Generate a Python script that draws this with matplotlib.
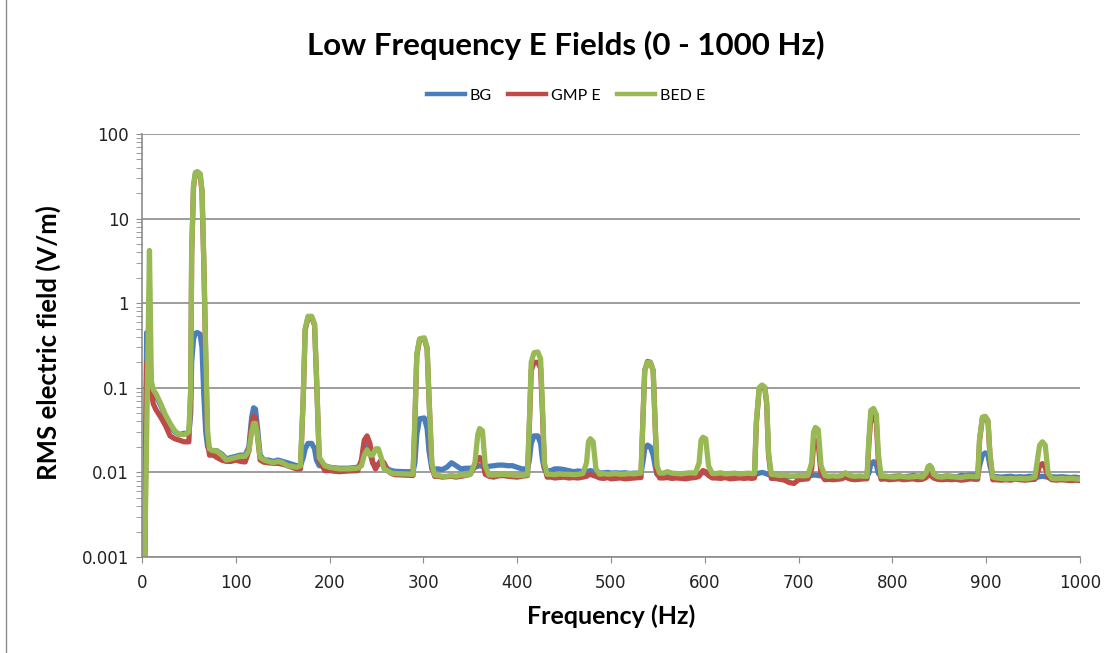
import numpy as np
import matplotlib
matplotlib.use("Agg")
import matplotlib.pyplot as plt
from matplotlib.ticker import LogLocator, FixedLocator, NullFormatter
from matplotlib.lines import Line2D

# frequency grid (Hz) shared by the three traces
freq = [
    3, 5, 8, 10, 12, 15, 20, 25, 30, 35, 40, 45, 48,
    50, 52, 53, 55, 57, 59, 62, 64, 66, 68, 70, 72,
    76, 80, 85, 90, 95, 100, 105, 110, 114, 117, 119, 121, 123, 126, 130, 135, 140, 145, 150, 155, 160, 165,
    169, 172, 174, 177, 181, 184, 186, 189, 195,
    200, 210, 220, 230, 234, 237, 240, 243, 246, 249, 252, 255, 258, 262, 266, 270, 280,
    289, 291, 293, 296, 301, 304, 306, 309, 312,
    316, 320, 325, 330, 335, 340, 345, 350, 355, 358, 360, 363, 366, 370, 375, 380, 385, 390, 395, 400, 405,
    411, 413, 415, 418, 422, 425, 427, 429, 432,
    436, 440, 445, 450, 455, 460, 465, 470, 474, 476, 478, 481, 484, 488, 492, 497, 500, 505, 510, 515, 520, 525, 530,
    532, 534, 536, 539, 542, 545, 547, 549, 552,
    556, 560, 565, 570, 575, 580, 585, 590, 594, 596, 598, 601, 604, 608, 612, 617, 622, 627, 632, 637, 642, 646, 650,
    653, 655, 658, 661, 664, 666, 668, 671,
    675, 680, 685, 690, 695, 700, 705, 710, 714, 716, 718, 721, 724, 728, 732, 737, 742, 746, 748, 750, 752, 756, 760, 765, 770,
    773, 775, 777, 780, 783, 785, 788,
    792, 797, 802, 807, 812, 817, 822, 827, 832, 836, 838, 840, 842, 844, 848, 853, 858, 863, 868, 873, 878, 883, 888,
    891, 893, 896, 899, 902, 904, 907,
    911, 916, 921, 926, 931, 936, 941, 946, 952, 955, 957, 960, 963, 966, 970, 975, 980, 985, 990, 995, 1000,
]

bg = [
    0.001, 0.45, 0.3, 0.11, 0.09, 0.08, 0.062, 0.046, 0.036, 0.030, 0.028, 0.029, 0.029,
    0.029, 0.05, 0.2, 0.38, 0.44, 0.45, 0.43, 0.3, 0.08, 0.03, 0.02, 0.018,
    0.018, 0.018, 0.0165, 0.0145, 0.015, 0.0155, 0.016, 0.016, 0.02, 0.045, 0.058, 0.056, 0.035, 0.016, 0.014, 0.014, 0.0135, 0.014, 0.0135, 0.013, 0.0125, 0.012,
    0.012, 0.015, 0.019, 0.022, 0.022, 0.019, 0.014, 0.012, 0.012,
    0.0115, 0.0112, 0.0112, 0.0115, 0.013, 0.019, 0.021, 0.017, 0.013, 0.012, 0.0125, 0.013, 0.012, 0.011, 0.0105, 0.0103, 0.0102,
    0.0102, 0.013, 0.028, 0.043, 0.044, 0.033, 0.018, 0.011, 0.011,
    0.011, 0.0108, 0.0115, 0.013, 0.012, 0.011, 0.0112, 0.0112, 0.0115, 0.0118, 0.012, 0.0118, 0.0115, 0.0118, 0.012, 0.0122, 0.0122, 0.012, 0.012, 0.0115, 0.011,
    0.011, 0.014, 0.022, 0.027, 0.027, 0.022, 0.014, 0.011, 0.0105,
    0.0105, 0.011, 0.011, 0.0108, 0.0105, 0.0102, 0.0104, 0.0102, 0.0103, 0.0103, 0.0105, 0.0103, 0.0101, 0.0098, 0.0099, 0.01, 0.0098, 0.0099, 0.0098, 0.0099, 0.0097, 0.0098, 0.0098,
    0.0098, 0.013, 0.019, 0.021, 0.02, 0.016, 0.012, 0.0095, 0.0093,
    0.0093, 0.0094, 0.0093, 0.0092, 0.0091, 0.0092, 0.0093, 0.0094, 0.0095, 0.0098, 0.01, 0.0098, 0.0094, 0.0092, 0.0092, 0.0093, 0.0092, 0.0093, 0.0093, 0.0092, 0.0094, 0.0095, 0.0094,
    0.0094, 0.0095, 0.0098, 0.01, 0.0098, 0.0096, 0.0094, 0.0093,
    0.0092, 0.0091, 0.009, 0.0089, 0.009, 0.0089, 0.009, 0.0091, 0.0092, 0.0093, 0.0093, 0.0092, 0.0091, 0.009, 0.0089, 0.0088, 0.0089, 0.0091, 0.0094, 0.0096, 0.0093, 0.009, 0.0089, 0.0088, 0.0089,
    0.0089, 0.0098, 0.0125, 0.0134, 0.0122, 0.0098, 0.0089,
    0.009, 0.0089, 0.009, 0.0091, 0.0089, 0.009, 0.0092, 0.009, 0.0091, 0.0094, 0.0097, 0.0098, 0.0096, 0.0093, 0.009, 0.0089, 0.0091, 0.009, 0.0088, 0.0092, 0.0091, 0.0093, 0.0092,
    0.0092, 0.012, 0.016, 0.017, 0.016, 0.012, 0.009,
    0.0089, 0.0088, 0.0089, 0.009, 0.0088, 0.0089, 0.0088, 0.009, 0.0089, 0.0088, 0.0089, 0.009, 0.0089, 0.0088, 0.0089, 0.0088, 0.0089, 0.0088, 0.0087, 0.0088, 0.0086,
]

gmp_e = [
    0.001, 0.2, 0.15, 0.09, 0.065, 0.055, 0.045, 0.036, 0.027, 0.025, 0.024, 0.023, 0.023,
    0.023, 0.09, 3.8, 24, 34, 35, 33, 21, 2.8, 0.22, 0.025, 0.016,
    0.016, 0.015, 0.014, 0.0135, 0.0135, 0.014, 0.0135, 0.0133, 0.018, 0.038, 0.046, 0.045, 0.028, 0.014, 0.0132, 0.013, 0.0128, 0.0128, 0.0125, 0.012, 0.0115, 0.011,
    0.011, 0.08, 0.48, 0.67, 0.68, 0.55, 0.14, 0.014, 0.0105,
    0.0105, 0.0102, 0.0104, 0.0105, 0.014, 0.024, 0.027, 0.022, 0.013, 0.011, 0.0125, 0.014, 0.013, 0.0105, 0.0097, 0.0094, 0.0093,
    0.0092, 0.04, 0.24, 0.37, 0.38, 0.29, 0.075, 0.012, 0.009,
    0.009, 0.0088, 0.0089, 0.009, 0.0088, 0.009, 0.0092, 0.0095, 0.012, 0.014, 0.015, 0.014, 0.0095, 0.009, 0.0088, 0.0091, 0.0092, 0.009, 0.0089, 0.0088, 0.009,
    0.0092, 0.035, 0.16, 0.2, 0.2, 0.17, 0.05, 0.012, 0.0088,
    0.0088, 0.0086, 0.0087, 0.0088, 0.0086, 0.0087, 0.0086, 0.0088, 0.009, 0.0093, 0.0095, 0.0092, 0.009, 0.0086, 0.0085, 0.0087, 0.0084, 0.0085, 0.0086, 0.0084, 0.0085, 0.0086, 0.0087,
    0.0087, 0.04, 0.16, 0.205, 0.2, 0.16, 0.04, 0.0098, 0.0086,
    0.0086, 0.0087, 0.0085, 0.0086, 0.0085, 0.0084, 0.0086, 0.0087, 0.009, 0.0098, 0.0105, 0.0102, 0.0092, 0.0086, 0.0086, 0.0085, 0.0087, 0.0084, 0.0085, 0.0086, 0.0085, 0.0086, 0.0085,
    0.0086, 0.038, 0.095, 0.105, 0.1, 0.065, 0.016, 0.0085,
    0.0085, 0.0083, 0.0081, 0.0076, 0.0074, 0.0082, 0.0083, 0.0084, 0.011, 0.021, 0.024, 0.022, 0.0095, 0.0082, 0.0083, 0.0082, 0.0083, 0.0084, 0.0086, 0.0088, 0.0086, 0.0083, 0.0082, 0.0083, 0.0084,
    0.0084, 0.022, 0.044, 0.046, 0.038, 0.014, 0.0083,
    0.0084, 0.0082, 0.0083, 0.0084, 0.0082, 0.0083, 0.0084, 0.0082, 0.0083, 0.0087, 0.0092, 0.0093, 0.009, 0.0086, 0.0083, 0.0082, 0.0083, 0.0082, 0.0083, 0.0081, 0.0082, 0.0084, 0.0083,
    0.0083, 0.024, 0.044, 0.045, 0.04, 0.016, 0.0082,
    0.0082, 0.0081, 0.0082, 0.0081, 0.0083, 0.0082, 0.0081, 0.0082, 0.0083, 0.01, 0.012, 0.0127, 0.0115, 0.0088, 0.0082, 0.0081, 0.0082, 0.0081, 0.008, 0.0081, 0.008,
]

bed_e = [
    0.001, 0.03, 4.2, 0.12, 0.095, 0.085, 0.065, 0.048, 0.038, 0.031, 0.028, 0.028, 0.029,
    0.03, 0.1, 4, 25, 35, 36, 34, 22, 3, 0.25, 0.03, 0.019,
    0.018, 0.018, 0.016, 0.014, 0.0145, 0.015, 0.0155, 0.0155, 0.018, 0.03, 0.038, 0.038, 0.028, 0.015, 0.014, 0.0135, 0.013, 0.0135, 0.013, 0.012, 0.0118, 0.0115,
    0.012, 0.08, 0.5, 0.7, 0.7, 0.57, 0.15, 0.015, 0.012,
    0.0115, 0.011, 0.011, 0.0112, 0.012, 0.016, 0.0185, 0.016, 0.016, 0.019, 0.019, 0.015, 0.011, 0.0105, 0.0098, 0.0097, 0.0096,
    0.0095, 0.042, 0.25, 0.38, 0.39, 0.3, 0.08, 0.013, 0.0093,
    0.0092, 0.009, 0.009, 0.0092, 0.009, 0.0093, 0.0093, 0.0095, 0.013, 0.028, 0.033, 0.031, 0.012, 0.0093, 0.0093, 0.0094, 0.0095, 0.0094, 0.0093, 0.0092, 0.0092,
    0.0094, 0.04, 0.2, 0.26, 0.265, 0.22, 0.06, 0.013, 0.0095,
    0.0095, 0.0094, 0.0096, 0.0095, 0.0095, 0.0094, 0.0095, 0.0097, 0.013, 0.023, 0.025, 0.023, 0.011, 0.0095, 0.0097, 0.0095, 0.0096, 0.0097, 0.0095, 0.0096, 0.0097, 0.0096, 0.0098,
    0.0098, 0.04, 0.16, 0.2, 0.2, 0.16, 0.04, 0.012, 0.0098,
    0.0098, 0.0102, 0.0098, 0.0097, 0.0096, 0.0098, 0.0099, 0.0098, 0.013, 0.024, 0.026, 0.025, 0.012, 0.0097, 0.0097, 0.0099, 0.0096, 0.0097, 0.0098, 0.0096, 0.0097, 0.0098, 0.0097,
    0.0097, 0.04, 0.1, 0.108, 0.102, 0.068, 0.017, 0.0095,
    0.0094, 0.0092, 0.0093, 0.0091, 0.009, 0.0092, 0.0091, 0.0092, 0.013, 0.03, 0.034, 0.032, 0.012, 0.0092, 0.009, 0.0091, 0.009, 0.0092, 0.0096, 0.0099, 0.0095, 0.0091, 0.009, 0.0091, 0.009,
    0.009, 0.025, 0.054, 0.057, 0.048, 0.017, 0.009,
    0.009, 0.0089, 0.0088, 0.009, 0.0089, 0.0088, 0.0089, 0.009, 0.0088, 0.0098, 0.0117, 0.0121, 0.0114, 0.0095, 0.0089, 0.0088, 0.009, 0.0089, 0.0088, 0.0087, 0.0089, 0.009, 0.0089,
    0.0089, 0.025, 0.045, 0.046, 0.041, 0.017, 0.0088,
    0.0086, 0.0085, 0.0084, 0.0085, 0.0084, 0.0085, 0.0084, 0.0085, 0.0088, 0.015, 0.021, 0.023, 0.021, 0.0098, 0.0085, 0.0084, 0.0085, 0.0084, 0.0085, 0.0084, 0.0083,
]

series_names = ["BG", "GMP E", "BED E"]
series_colors = ["#4A7EBB", "#BE4B48", "#98B954"]
x_ticks = [0, 100, 200, 300, 400, 500, 600, 700, 800, 900, 1000]
y_ticks = [0.001, 0.01, 0.1, 1, 10, 100]
y_tick_labels = ["0.001", "0.01", "0.1", "1", "10", "100"]

assert len(freq) == len(bg) == len(gmp_e) == len(bed_e), (len(freq), len(bg), len(gmp_e), len(bed_e))

fig = plt.figure(figsize=(11.16, 6.53), dpi=100)
ax = fig.add_axes([0.1272, 0.147, 0.8405, 0.6478])

for vals, name, col in zip([bg, gmp_e, bed_e], series_names, series_colors):
    ax.plot(freq, vals, color=col, lw=3.8, solid_joinstyle="round", solid_capstyle="round", label=name)

ax.set_yscale("log")
ax.set_xlim(0, 1000)
ax.set_ylim(0.001, 100)

ax.yaxis.set_major_locator(FixedLocator(y_ticks))
ax.set_yticklabels(y_tick_labels)
ax.yaxis.set_minor_locator(LogLocator(base=10, subs=np.arange(2, 10)))
ax.yaxis.set_minor_formatter(NullFormatter())
ax.xaxis.set_major_locator(FixedLocator(x_ticks))

ax.grid(axis="y", which="major", color="#8C8C8C", lw=1.2)
ax.set_axisbelow(True)
for s in ["top", "right"]:
    ax.spines[s].set_visible(False)
for s in ["left", "bottom"]:
    ax.spines[s].set_color("#8C8C8C")
    ax.spines[s].set_linewidth(1.2)

ax.tick_params(axis="both", which="major", direction="out", length=4.5, color="#8C8C8C",
               labelsize=12, labelcolor="#222222")
ax.tick_params(axis="y", which="major", pad=5)
ax.tick_params(axis="x", which="major", pad=8)
ax.tick_params(axis="y", which="minor", direction="out", length=4.5, color="#8C8C8C")
for lab in ax.get_xticklabels() + ax.get_yticklabels():
    lab.set_fontfamily("DejaVu Sans")

ax.set_xlabel("Frequency (Hz)", fontsize=18, fontweight="bold", family="Lato")
ax.set_ylabel("RMS electric field (V/m)", fontsize=18.5, fontweight="bold", family="Lato")
ax.xaxis.set_label_coords(0.5, -0.113)
ax.yaxis.set_label_coords(-0.086, 0.506)

fig.text(0.507, 0.931, "Low Frequency E Fields (0 - 1000 Hz)", ha="center", va="center",
         fontsize=22.5, fontweight="bold", family="Lato")

handles = [Line2D([], [], color=c, lw=3.2) for c in series_colors]
fig.legend(handles, series_names, loc="center", bbox_to_anchor=(0.507, 0.853), ncol=3,
           frameon=False, handlelength=2.4, columnspacing=1.0, handletextpad=0.3,
           prop={"family": "Lato", "size": 11.5})

# chart-area border on the left edge
fig.add_artist(Line2D([0.005, 0.005], [0, 1], transform=fig.transFigure, color="#8C8C8C", lw=1))

fig.savefig("out.png", dpi=100)
